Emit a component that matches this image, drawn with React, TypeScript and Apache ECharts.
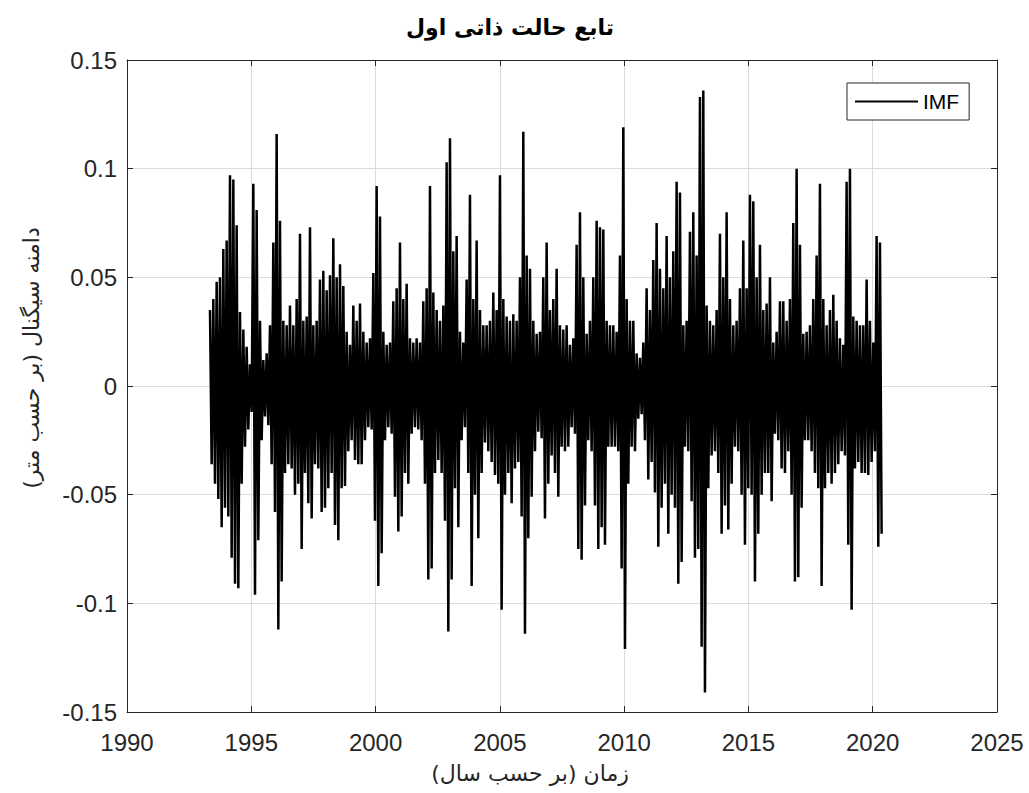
import React, { useEffect, useRef } from "react";
import * as echarts from "echarts";

// Signal: for each short window (~0.134 yr) the upper and lower peak
const startYear = 1993.339;
const stepYears = 0.13409;

const upperPeaks = [
  0.035, 0.040, 0.048, 0.050, 0.063, 0.067, 0.097, 0.095, 0.074, 0.034,
  0.026, 0.018, 0.010, 0.093, 0.081, 0.030, 0.012, 0.015, 0.028, 0.066,
  0.116, 0.076, 0.030, 0.028, 0.037, 0.028, 0.040, 0.070, 0.030, 0.032,
  0.073, 0.028, 0.030, 0.049, 0.053, 0.044, 0.051, 0.068, 0.050, 0.056,
  0.046, 0.025, 0.019, 0.037, 0.030, 0.038, 0.025, 0.020, 0.022, 0.052,
  0.092, 0.078, 0.025, 0.019, 0.020, 0.039, 0.045, 0.066,
  0.040, 0.047, 0.022, 0.020, 0.022, 0.020, 0.039, 0.045, 0.092, 0.043,
  0.035, 0.030, 0.037, 0.103, 0.114, 0.062, 0.069, 0.025, 0.020, 0.049,
  0.088, 0.040, 0.067, 0.035, 0.028, 0.028, 0.030, 0.043, 0.035, 0.097,
  0.040, 0.032, 0.030, 0.033, 0.030, 0.050, 0.117, 0.060, 0.054, 0.030,
  0.024, 0.025, 0.050, 0.066, 0.035, 0.040, 0.054, 0.028, 0.026, 0.028,
  0.019, 0.022, 0.065, 0.080, 0.050, 0.024, 0.030, 0.050, 0.076, 0.073,
  0.072, 0.030,
  0.028, 0.028, 0.025, 0.060, 0.119, 0.040, 0.030, 0.030, 0.015, 0.013,
  0.020, 0.045, 0.035, 0.058, 0.075, 0.054, 0.045, 0.069, 0.050, 0.062,
  0.094, 0.089, 0.028, 0.030, 0.071, 0.080, 0.060, 0.133, 0.136, 0.037,
  0.030, 0.028, 0.035, 0.070, 0.050, 0.080, 0.040, 0.028, 0.030, 0.045,
  0.067, 0.045, 0.088, 0.085, 0.050, 0.065, 0.035, 0.038, 0.050, 0.020,
  0.025, 0.039, 0.039, 0.030, 0.040, 0.075, 0.100, 0.065, 0.024, 0.025,
  0.028, 0.040, 0.060,
  0.093, 0.040, 0.028, 0.035, 0.042, 0.030, 0.022, 0.019, 0.094, 0.100,
  0.032, 0.030, 0.028, 0.028, 0.049, 0.030, 0.020, 0.069, 0.066,
];

const lowerPeaks = [
  -0.036, -0.045, -0.052, -0.065, -0.056, -0.060, -0.079, -0.091, -0.093, -0.045,
  -0.028, -0.020, -0.012, -0.096, -0.071, -0.025, -0.014, -0.018, -0.036, -0.058,
  -0.112, -0.090, -0.040, -0.036, -0.038, -0.050, -0.045, -0.075, -0.040, -0.054,
  -0.061, -0.036, -0.038, -0.058, -0.056, -0.047, -0.040, -0.064, -0.071, -0.047,
  -0.046, -0.030, -0.025, -0.034, -0.036, -0.036, -0.025, -0.019, -0.020, -0.062,
  -0.092, -0.077, -0.025, -0.019, -0.022, -0.051, -0.067, -0.060,
  -0.040, -0.045, -0.022, -0.019, -0.020, -0.025, -0.045, -0.089, -0.084, -0.040,
  -0.034, -0.040, -0.062, -0.113, -0.089, -0.047, -0.065, -0.025, -0.019, -0.040,
  -0.092, -0.050, -0.070, -0.040, -0.026, -0.030, -0.035, -0.041, -0.045, -0.103,
  -0.050, -0.040, -0.054, -0.038, -0.035, -0.060, -0.114, -0.070, -0.051, -0.030,
  -0.021, -0.024, -0.061, -0.045, -0.032, -0.040, -0.051, -0.028, -0.030, -0.028,
  -0.019, -0.022, -0.075, -0.080, -0.055, -0.025, -0.030, -0.055, -0.075, -0.065,
  -0.073, -0.028,
  -0.028, -0.028, -0.030, -0.084, -0.121, -0.045, -0.028, -0.030, -0.015, -0.013,
  -0.025, -0.043, -0.035, -0.049, -0.074, -0.056, -0.045, -0.068, -0.050, -0.056,
  -0.091, -0.081, -0.028, -0.030, -0.053, -0.079, -0.075, -0.120, -0.141, -0.047,
  -0.032, -0.030, -0.040, -0.068, -0.055, -0.066, -0.045, -0.028, -0.030, -0.050,
  -0.073, -0.047, -0.050, -0.090, -0.068, -0.050, -0.040, -0.040, -0.053, -0.022,
  -0.025, -0.038, -0.040, -0.030, -0.050, -0.090, -0.088, -0.056, -0.025, -0.025,
  -0.030, -0.040, -0.047,
  -0.092, -0.047, -0.040, -0.045, -0.040, -0.036, -0.030, -0.032, -0.073, -0.103,
  -0.038, -0.035, -0.040, -0.040, -0.041, -0.035, -0.030, -0.074, -0.068,
];

const seriesName = "IMF";
const titleText = "تابع حالت ذاتی اول";
const xAxisName = "زمان (بر حسب سال)";
const yAxisName = "دامنه سیگنال (بر حسب متر)";

const X_MIN = 1990;
const X_MAX = 2025;
const X_STEP = 5;
const Y_MIN = -0.15;
const Y_MAX = 0.15;
const Y_STEP = 0.05;

export default function App() {
  const ref = useRef<HTMLDivElement>(null);

  useEffect(() => {
    if (!ref.current) return;
    const chart = echarts.init(ref.current, null, { renderer: "svg" });

    const data: [number, number][] = [];
    upperPeaks.forEach((u, i) => {
      const t = startYear + i * stepYears;
      data.push([t, u]);
      data.push([t + stepYears / 2, lowerPeaks[i]]);
    });

    const axisColor = "#262626";
    const tickFont = "'Liberation Sans', Arial, sans-serif";
    const faFont = "'DejaVu Sans', sans-serif";

    const baseX = {
      type: "value" as const,
      min: X_MIN,
      max: X_MAX,
      interval: X_STEP,
      axisLine: { show: true, onZero: false, lineStyle: { color: axisColor, width: 1 } },
      axisTick: { show: true, inside: true, length: 6, lineStyle: { color: axisColor } },
    };
    const baseY = {
      type: "value" as const,
      min: Y_MIN,
      max: Y_MAX,
      interval: Y_STEP,
      axisLine: { show: true, onZero: false, lineStyle: { color: axisColor, width: 1 } },
      axisTick: { show: true, inside: true, length: 6, lineStyle: { color: axisColor } },
    };

    chart.setOption({
      animation: false,
      backgroundColor: "#ffffff",
      grid: { left: 127, right: 32, top: 60, bottom: 81, containLabel: false },
      xAxis: [
        {
          ...baseX,
          position: "bottom",
          axisLabel: {
            show: true,
            margin: 18,
            fontSize: 24,
            color: axisColor,
            fontFamily: tickFont,
            formatter: (v: number) => String(v),
          },
          splitLine: { show: true, lineStyle: { color: "#dcdcdc", width: 1 } },
        },
        {
          ...baseX,
          position: "top",
          axisLabel: { show: false },
          splitLine: { show: false },
        },
      ],
      yAxis: [
        {
          ...baseY,
          position: "left",
          axisLabel: {
            show: true,
            margin: 10,
            fontSize: 24,
            color: axisColor,
            fontFamily: tickFont,
            formatter: (v: number) => String(Math.round(v * 100) / 100),
          },
          splitLine: { show: true, lineStyle: { color: "#dcdcdc", width: 1 } },
        },
        {
          ...baseY,
          position: "right",
          axisLabel: { show: false },
          splitLine: { show: false },
        },
      ],
      legend: {
        data: [seriesName],
        left: 847,
        top: 83,
        icon: "rect",
        itemWidth: 63,
        itemHeight: 2,
        padding: [8, 10, 8, 8],
        borderColor: axisColor,
        borderWidth: 1,
        backgroundColor: "#ffffff",
        textStyle: { fontSize: 21, color: "#000", fontFamily: tickFont },
      },
      graphic: [
        {
          type: "text",
          x: 510,
          y: 27,
          style: {
            text: titleText,
            font: `bold 22px ${faFont}`,
            fill: "#000",
            align: "center",
            verticalAlign: "middle",
          },
        },
        {
          type: "text",
          x: 530,
          y: 773,
          style: {
            text: xAxisName,
            font: `22px ${faFont}`,
            fill: "#262626",
            align: "center",
            verticalAlign: "middle",
          },
        },
        {
          type: "text",
          x: 31,
          y: 358,
          rotation: Math.PI / 2,
          style: {
            text: yAxisName,
            font: `22px ${faFont}`,
            fill: "#262626",
            align: "center",
            verticalAlign: "middle",
          },
        },
      ],
      series: [
        {
          name: seriesName,
          type: "line",
          xAxisIndex: 0,
          yAxisIndex: 0,
          data,
          symbol: "none",
          showSymbol: false,
          lineStyle: { color: "#000", width: 2.5 },
          itemStyle: { color: "#000" },
          emphasis: { disabled: true },
        },
      ],
    });

    return () => chart.dispose();
  }, []);

  return (
    <div
      ref={ref}
      style={{ position: "absolute", left: 0, top: 0, width: 1029, height: 793, background: "#fff" }}
    />
  );
}
